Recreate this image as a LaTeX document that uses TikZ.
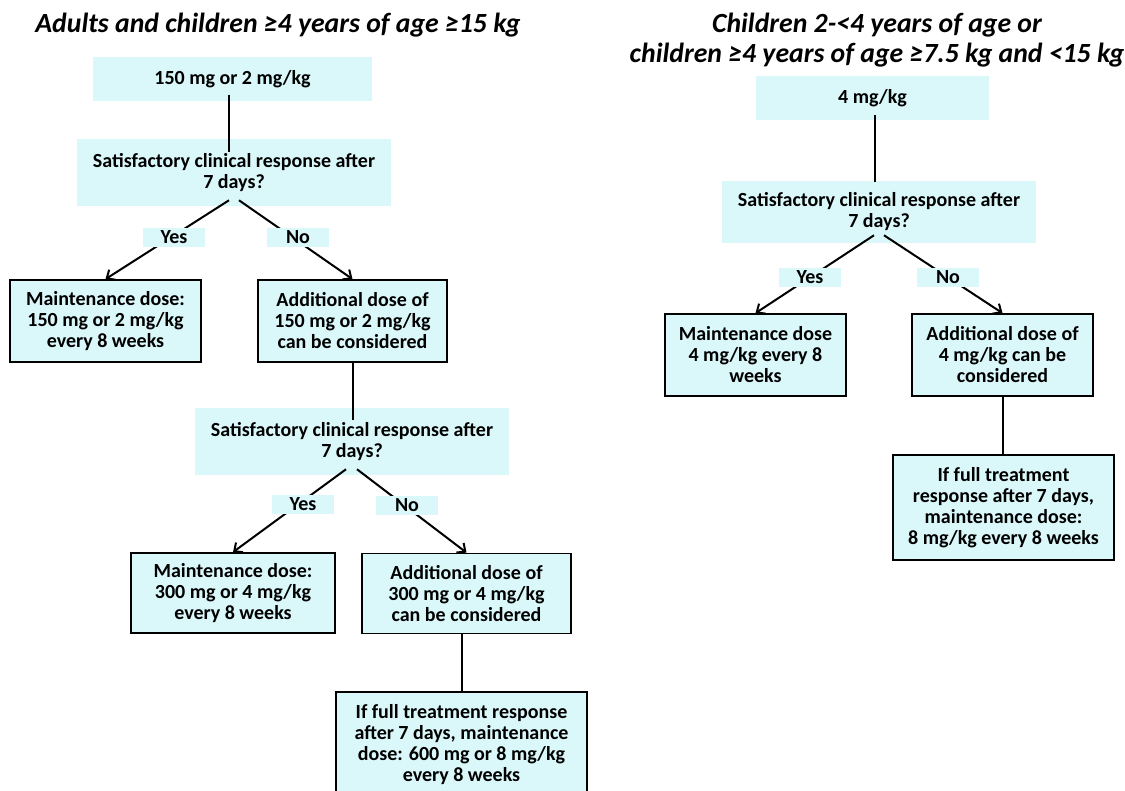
\documentclass[tikz,border=0pt]{standalone}
\usepackage{fontspec}
\setmainfont{Carlito}
\usetikzlibrary{arrows.meta}
\definecolor{paleaqua}{RGB}{218,248,250}

\begin{document}
\begin{tikzpicture}[x=0.75pt,y=-0.75pt,>={Straight Barb[length=5pt,width=9pt]},
  every node/.style={font=\bfseries\fontsize{15}{15.75}\selectfont,align=center,inner sep=0pt},
  pale/.style={fill=paleaqua},
  framed/.style={pale,draw,line width=1.3pt},
  answer/.style={pale,minimum width=46.5pt,minimum height=14.25pt},
  heading/.style={font=\bfseries\itshape\fontsize{20.8}{22.5}\selectfont}]
\useasboundingbox (0,0) rectangle (1125,790);
\node[heading] (h1) at (278,25) {Adults and children ≥4 years of age ≥15 kg};
\node[heading] (h2) at (877,40) {Children 2-<4 years of age or\\children ≥4 years of age ≥7.5 kg and <15 kg};
% left tree
\node[pale,minimum width=209.25pt,minimum height=33pt] (a1) at (232.5,79) {150 mg or 2 mg/kg};
\node[pale,minimum width=235.5pt,minimum height=50.25pt] (q1) at (234,172.5) {Satisfactory clinical response after\\7 days?};
\node[framed,minimum width=143.25pt,minimum height=61.5pt] (m1) at (105.5,321) {Maintenance dose:\\150 mg or 2 mg/kg\\every 8 weeks};
\node[framed,minimum width=141.75pt,minimum height=61.5pt] (d1) at (352.5,321) {Additional dose of\\150 mg or 2 mg/kg\\can be considered};
\node[pale,minimum width=235.5pt,minimum height=50.25pt] (q2) at (352,441.5) {Satisfactory clinical response after\\7 days?};
\node[framed,minimum width=153pt,minimum height=60pt] (m2) at (233,593) {Maintenance dose:\\300 mg or 4 mg/kg\\every 8 weeks};
\node[framed,minimum width=156.75pt,minimum height=60pt] (d2) at (466.5,593.5) {Additional dose of\\300 mg or 4 mg/kg\\can be considered};
\node[framed,minimum width=188.25pt,minimum height=78.75pt] (f1) at (461.5,744.5) {If full treatment response\\after 7 days, maintenance\\dose: 600 mg or 8 mg/kg\\every 8 weeks};
% right tree
\node[pale,minimum width=174.75pt,minimum height=33pt] (a2) at (872.5,98) {4 mg/kg};
\node[pale,minimum width=235.5pt,minimum height=46.5pt] (q3) at (879,212) {Satisfactory clinical response after\\7 days?};
\node[framed,minimum width=135.75pt,minimum height=61.5pt] (m3) at (755.5,355) {Maintenance dose\\4 mg/kg every 8\\weeks};
\node[framed,minimum width=135.75pt,minimum height=61.5pt] (d3) at (1002.5,355) {Additional dose of\\4 mg/kg can be\\considered};
\node[framed,minimum width=165.75pt,minimum height=78.75pt] (f2) at (1003.5,507.5) {If full treatment\\response after 7 days,\\maintenance dose:\\8 mg/kg every 8 weeks};
% connectors
\begin{scope}[line width=1.5pt]
\draw ([xshift=-2.5pt,yshift=5pt]a1.south) -- ([xshift=-2.5pt,yshift=-9.75pt]a1.south |- q1.north);
\draw (d1.south) -- ([yshift=-9pt]d1.south |- q2.north);
\draw (f1.north) -- (f1.north |- d2.south);
\draw ([xshift=2pt,yshift=4pt]a2.south) -- ([xshift=2pt,yshift=-1pt]a2.south |- q3.north);
\draw (d3.south) -- (d3.south |- f2.north);
\draw[->] ([xshift=-3.75pt,yshift=4.5pt]q1.south) -- (m1.north);
\draw[->] ([xshift=3.75pt,yshift=4.5pt]q1.south) -- (d1.north);
\draw[->] ([xshift=-4.5pt,yshift=4.5pt]q2.south) -- (m2.north);
\draw[->] ([xshift=3.75pt,yshift=4.5pt]q2.south) -- (d2.north);
\draw[->] ([xshift=-3.75pt,yshift=6pt]q3.south) -- (m3.north);
\draw[->] ([xshift=3.75pt,yshift=6pt]q3.south) -- (d3.north);
\end{scope}
\node[answer] (y1) at (174,237.5) {Yes};
\node[answer] (n1) at (298,237.5) {No};
\node[answer] (y2) at (303,504) {Yes};
\node[answer] (n2) at (407,505) {No};
\node[answer] (y3) at (810,277.5) {Yes};
\node[answer] (n3) at (948,277.5) {No};
\end{tikzpicture}
\end{document}
